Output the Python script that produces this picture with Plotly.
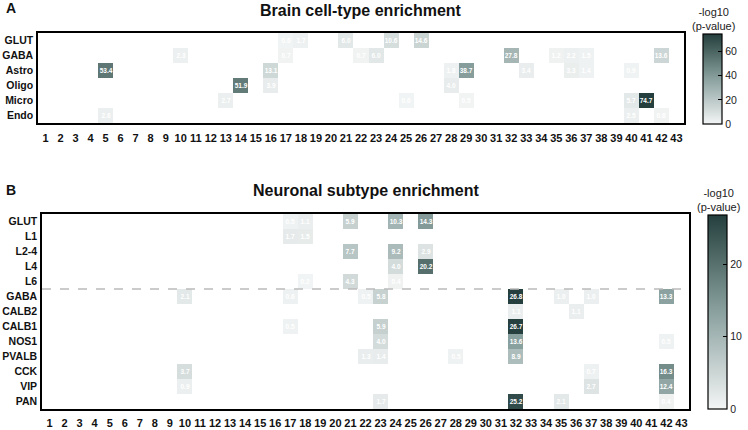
import plotly.graph_objects as go

W, H = 748, 430
FONT = "Liberation Sans, Arial, sans-serif"

cols = list(range(1, 44))

# ---------- Panel A: brain cell-type enrichment ----------
rows_a = ["GLUT", "GABA", "Astro", "Oligo", "Micro", "Endo"]
a_glut = {17: 0.6, 18: 1.7, 21: 6.0, 24: 10.6, 26: 14.6}
a_gaba = {10: 2.3, 17: 0.7, 22: 0.7, 23: 6.0, 32: 27.8, 35: 1.2, 36: 2.2, 37: 1.5, 42: 13.6}
a_astro = {5: 53.4, 16: 13.1, 28: 1.8, 29: 38.7, 33: 3.4, 36: 3.3, 37: 1.4, 40: 0.9}
a_oligo = {14: 51.9, 16: 3.9, 28: 4.0}
a_micro = {13: 2.7, 25: 0.6, 29: 0.5, 40: 5.7, 41: 74.7}
a_endo = {5: 2.6, 40: 2.5, 42: 0.8}
a_rows_data = [a_glut, a_gaba, a_astro, a_oligo, a_micro, a_endo]
a_ticks = [0, 20, 40, 60]

# ---------- Panel B: neuronal subtype enrichment ----------
rows_b = ["GLUT", "L1", "L2-4", "L4", "L6", "GABA", "CALB2", "CALB1",
          "NOS1", "PVALB", "CCK", "VIP", "PAN"]
b_glut = {17: 0.5, 18: 1.1, 21: 5.9, 24: 10.3, 26: 14.3}
b_l1 = {17: 1.7, 18: 1.5}
b_l24 = {21: 7.7, 24: 9.2, 26: 2.9}
b_l4 = {24: 4.0, 26: 20.2}
b_l6 = {18: 0.2, 21: 4.3, 24: 0.4}
b_gaba = {10: 2.1, 17: 0.6, 22: 0.5, 23: 5.8, 32: 26.8, 35: 1.0, 37: 1.0, 42: 13.3}
b_calb2 = {32: 1.1, 36: 1.1}
b_calb1 = {17: 0.5, 23: 5.9, 32: 26.7}
b_nos1 = {23: 4.0, 32: 13.6, 42: 0.5}
b_pvalb = {22: 1.3, 23: 1.4, 28: 0.5, 32: 8.9}
b_cck = {10: 3.7, 37: 0.7, 42: 16.3}
b_vip = {10: 0.9, 37: 2.7, 42: 12.4}
b_pan = {23: 1.7, 32: 25.2, 35: 2.1, 42: 0.4}
b_rows_data = [b_glut, b_l1, b_l24, b_l4, b_l6, b_gaba, b_calb2, b_calb1,
               b_nos1, b_pvalb, b_cck, b_vip, b_pan]
b_ticks = [0, 10, 20]

colorscale = [[0.0, "#f3f5f5"], [0.5, "#8aa19f"], [1.0, "#243f3d"]]


def grid(rows_data):
    z = [[d.get(c) for c in cols] for d in rows_data]
    t = [["" if v is None else f"{v:.1f}" for v in r] for r in z]
    zmax = max(v for r in z for v in r if v is not None)
    return z, t, zmax


za, ta, zmax_a = grid(a_rows_data)
zb, tb, zmax_b = grid(b_rows_data)

# pixel geometry
A_L, A_R, A_T, A_B = 38, 684, 33, 123
B_L, B_R, B_T, B_B = 42, 689, 214, 409


def px_x(x):
    return x / W


def px_y(y):
    return 1 - y / H


fig = go.Figure()

common_text = dict(color="white", size=6.5, family=FONT, weight="bold")

fig.add_trace(go.Heatmap(
    z=za, x=cols, y=list(range(len(rows_a))), text=ta, texttemplate="%{text}",
    textfont=common_text, colorscale=colorscale, zmin=0, zmax=zmax_a,
    xaxis="x", yaxis="y", hoverongaps=False,
    colorbar=dict(x=px_x(703), xanchor="left", xpad=0, ypad=0,
                  y=px_y((34 + 124) / 2), yanchor="middle",
                  len=90, lenmode="pixels", thickness=19, thicknessmode="pixels",
                  outlinewidth=1.2, outlinecolor="black",
                  ticks="inside", ticklen=4, tickcolor="black", tickwidth=1,
                  tickvals=a_ticks, tickfont=dict(size=10.5, family=FONT, color="#222")),
))

fig.add_trace(go.Heatmap(
    z=zb, x=cols, y=list(range(len(rows_b))), text=tb, texttemplate="%{text}",
    textfont=common_text, colorscale=colorscale, zmin=0, zmax=zmax_b,
    xaxis="x2", yaxis="y2", hoverongaps=False,
    colorbar=dict(x=px_x(708), xanchor="left", xpad=0, ypad=0,
                  y=px_y((215 + 409) / 2), yanchor="middle",
                  len=194, lenmode="pixels", thickness=19, thicknessmode="pixels",
                  outlinewidth=1.2, outlinecolor="black",
                  ticks="inside", ticklen=4, tickcolor="black", tickwidth=1,
                  tickvals=b_ticks, tickfont=dict(size=10.5, family=FONT, color="#222")),
))

axis_common = dict(showline=True, mirror=True, linecolor="black", linewidth=1.5,
                   showgrid=False, zeroline=False, ticks="", fixedrange=True)
xfont = dict(size=11, family=FONT, color="#111", weight="bold")
yfont = dict(size=10.5, family=FONT, color="#111", weight="bold")

fig.update_layout(
    width=W, height=H, margin=dict(l=0, r=0, t=0, b=0, autoexpand=False),
    paper_bgcolor="white", plot_bgcolor="white",
    font=dict(family=FONT, color="#111"),
    showlegend=False,
    xaxis=dict(domain=[px_x(A_L), px_x(A_R)], range=[0.5, 43.5], tickvals=cols,
               tickfont=xfont, anchor="y", ticklabelstandoff=4, **axis_common),
    yaxis=dict(domain=[px_y(A_B), px_y(A_T)], range=[len(rows_a) - 0.5, -0.5],
               tickvals=list(range(len(rows_a))), ticktext=rows_a,
               tickfont=yfont, anchor="x", ticklabelstandoff=1, **axis_common),
    xaxis2=dict(domain=[px_x(B_L), px_x(B_R)], range=[0.5, 43.5], tickvals=cols,
                tickfont=xfont, anchor="y2", ticklabelstandoff=3, **axis_common),
    yaxis2=dict(domain=[px_y(B_B), px_y(B_T)], range=[len(rows_b) - 0.5, -0.5],
                tickvals=list(range(len(rows_b))), ticktext=rows_b,
                tickfont=yfont, anchor="x2", ticklabelstandoff=1, **axis_common),
)

# dashed separator between glutamatergic and GABAergic subtypes
sep = rows_b.index("GABA") - 0.5
fig.add_shape(type="line", xref="x2", yref="y2", x0=0.5, x1=43.5, y0=sep, y1=sep,
              line=dict(color="#bbbbbb", width=1.5, dash="dash"))

ann = [
    dict(text="<b>A</b>", x=px_x(4), y=px_y(8), xanchor="left", yanchor="middle",
         font=dict(size=14, family=FONT, color="#111")),
    dict(text="<b>B</b>", x=px_x(4), y=px_y(190), xanchor="left", yanchor="middle",
         font=dict(size=14, family=FONT, color="#111")),
    dict(text="<b>Brain cell-type enrichment</b>", x=px_x((A_L + A_R) / 2), y=px_y(10),
         xanchor="center", yanchor="middle", font=dict(size=16, family=FONT, color="#111")),
    dict(text="<b>Neuronal subtype enrichment</b>", x=px_x((B_L + B_R) / 2), y=px_y(190),
         xanchor="center", yanchor="middle", font=dict(size=16, family=FONT, color="#111")),
    dict(text="-log10<br>(p-value)", x=px_x(713), y=px_y(19), xanchor="center",
         yanchor="middle", font=dict(size=11, family=FONT, color="#222")),
    dict(text="-log10<br>(p-value)", x=px_x(718), y=px_y(199.5), xanchor="center",
         yanchor="middle", font=dict(size=11, family=FONT, color="#222")),
]
for a in ann:
    fig.add_annotation(xref="paper", yref="paper", showarrow=False, **a)

fig.write_html("out.html", config={"displayModeBar": False},
               post_script="document.body.style.margin='0';document.body.style.padding='0';")
